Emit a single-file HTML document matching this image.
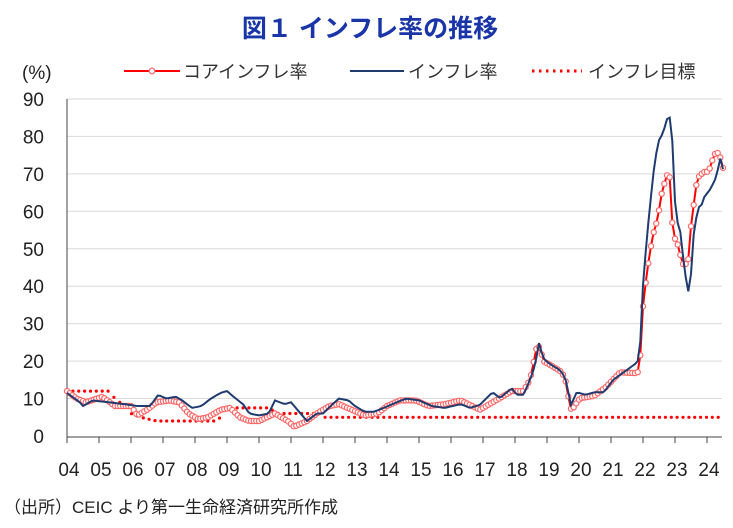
<!DOCTYPE html><html><head><meta charset="utf-8"><style>
body{margin:0;background:#fff;width:733px;height:523px;overflow:hidden;font-family:"Liberation Sans","Noto Sans CJK JP",sans-serif}
</style></head><body>
<svg id="s" width="733" height="523" xmlns="http://www.w3.org/2000/svg" font-family="Liberation Sans, Noto Sans CJK JP, sans-serif">
<text x="370" y="37" text-anchor="middle" font-size="25" font-weight="bold" fill="#1a35a8">図１ インフレ率の推移</text>
<text x="22" y="79" font-size="19" fill="#222">(%)</text>
<line x1="124" y1="71" x2="180" y2="71" stroke="#f00" stroke-width="2"/><circle cx="152" cy="71" r="2.8" fill="#fff" stroke="#f77" stroke-width="1.3"/>
<text x="183" y="78" font-size="18" fill="#333">コアインフレ率</text>
<line x1="350" y1="71" x2="404" y2="71" stroke="#1f3b70" stroke-width="2"/>
<text x="408" y="78" font-size="18" fill="#333">インフレ率</text>
<line x1="532" y1="71" x2="582" y2="71" stroke="#f00" stroke-width="3" stroke-dasharray="2.5,4.5"/>
<text x="588" y="78" font-size="18" fill="#333">インフレ目標</text>
<g id="g"></g>
<text x="4" y="513" font-size="17" fill="#222">（出所）CEIC より第一生命経済研究所作成</text>
</svg>
<script>
const g=document.getElementById('g');let h='';
const Y=v=>436-v*3.745, X=t=>67+32*t;
for(let v=0;v<=90;v+=10){const y=Y(v);if(v>0)h+=`<line x1="67" y1="${y}" x2="722" y2="${y}" stroke="#d9d9d9" stroke-width="1"/>`;h+=`<text x="44" y="${y+7}" text-anchor="end" font-size="19" fill="#222">${v}</text>`;}
h+=`<line x1="67" y1="99" x2="67" y2="437" stroke="#444"/><line x1="67" y1="437" x2="722" y2="437" stroke="#444"/>`;
for(let k=0;k<=20;k++){const x=X(k);h+=`<line x1="${x}" y1="437" x2="${x}" y2="443" stroke="#444"/>`;h+=`<text x="${x+2}" y="476" text-anchor="middle" font-size="19" fill="#222">${String(k+4).padStart(2,'0')}</text>`;}
function interp(p,t){for(let i=0;i<p.length-1;i++){if(t>=p[i][0]&&t<=p[i+1][0]){const f=(t-p[i][0])/(p[i+1][0]-p[i][0]);return p[i][1]+f*(p[i+1][1]-p[i][1]);}}return p[p.length-1][1];}
const H=[[0,11.5],[.4,9],[.5,8],[.8,9.5],[1.3,9],[1.8,8.5],[2.2,8],[2.6,8],[2.85,11],[3.1,10],[3.4,10.5],[3.6,9.5],[3.9,7.5],[4.2,8],[4.5,10],[4.8,11.5],[5,12],[5.2,10.5],[5.5,8.5],[5.7,6],[6,5.5],[6.3,6],[6.5,9.5],[6.8,8.5],[7,9],[7.3,6],[7.5,4],[7.8,6],[8,6],[8.3,8.5],[8.5,10],[8.8,9.5],[9,8],[9.3,6.5],[9.6,6.5],[9.9,7.5],[10.3,9],[10.6,10],[11,9.5],[11.4,8],[11.8,7.5],[12.3,8.5],[12.6,7.5],[12.9,8.3],[13.3,11.7],[13.53,10.1],[13.9,12.8],[14.05,11],[14.26,11],[14.47,15],[14.63,19],[14.75,24.8],[14.88,20.8],[15.03,19.6],[15.4,17.6],[15.56,15.8],[15.7,10.4],[15.75,8.3],[15.93,11.7],[16.2,11],[16.5,11.7],[16.78,11.7],[17.07,15],[17.49,17.6],[17.8,19.5],[17.9,21],[17.96,36],[18.11,52],[18.32,70],[18.47,78.5],[18.63,81],[18.78,85.5],[18.9,84.4],[18.95,67.5],[19.05,57.7],[19.16,55],[19.31,43.5],[19.42,38.5],[19.47,38],[19.55,52],[19.68,59],[19.73,61],[19.83,61.7],[19.94,64.4],[20.04,65],[20.2,67.5],[20.32,69.7],[20.38,75.5],[20.46,72.4],[20.51,71]];
const C=[[0,12],[.3,10],[.6,9],[1.1,10.5],[1.5,8],[2,8],[2.2,5.5],[2.5,7],[2.8,9],[3.2,9.5],[3.5,9],[3.8,6],[4.1,4.5],[4.4,5],[4.8,7],[5.1,7.5],[5.4,5],[5.7,4],[6,4],[6.5,6],[6.9,4],[7.1,2.5],[7.5,4],[7.8,6],[8.2,8],[8.5,8.5],[8.9,7],[9.3,5.5],[9.7,6],[10,8],[10.4,9.5],[10.9,9.5],[11.3,8],[11.8,8.5],[12.3,9.5],[12.9,7],[13.4,9.5],[13.9,12],[14.26,12],[14.47,15],[14.68,23.8],[14.78,23.8],[14.88,20],[15.2,18.5],[15.47,17],[15.63,13.6],[15.7,7.8],[15.78,7],[16.03,10.1],[16.47,10.7],[16.86,13.2],[17.28,17],[17.8,16.8],[17.9,17.6],[17.96,31.8],[18.07,39.5],[18.11,43.8],[18.22,48.3],[18.27,52.3],[18.38,56],[18.43,57],[18.53,61.7],[18.61,66.2],[18.69,67.8],[18.78,70.5],[18.84,68.9],[18.95,51.8],[19.03,53.2],[19.1,50.5],[19.2,47.3],[19.28,45.1],[19.42,47.3],[19.5,56],[19.63,64.9],[19.7,68.9],[19.83,70],[19.97,70.8],[20.04,70.3],[20.14,72.9],[20.22,75],[20.3,75.9],[20.4,75],[20.49,71.6]];
const T=[[0,12],[1.3,12],[1.5,10],[1.8,8],[2,6],[2.3,5],[2.8,4],[4.7,4],[5,7.5],[6.3,7.5],[6.6,6],[7.9,6],[8,5],[20.6,5]];
let ph='',pc='',circ='',dots='';
for(let m=0;m<=246;m++){const t=m/12;ph+=X(t).toFixed(1)+','+Y(interp(H,t)).toFixed(1)+' ';const cy=Y(interp(C,t));pc+=X(t).toFixed(1)+','+cy.toFixed(1)+' ';circ+=`<circle cx="${X(t).toFixed(1)}" cy="${cy.toFixed(1)}" r="2.6" fill="#fff" stroke="#f66" stroke-width="1.2"/>`;}
for(let m=0;m<=246;m+=2.2){const t=m/12;dots+=`<circle cx="${X(t).toFixed(1)}" cy="${Y(interp(T,t)).toFixed(1)}" r="1.6" fill="#f00"/>`;}
h+=dots+`<polyline points="${pc}" fill="none" stroke="#f00" stroke-width="2"/>`+circ+`<polyline points="${ph}" fill="none" stroke="#1f3b70" stroke-width="2"/>`;
g.innerHTML=h;
</script>
</body></html>
